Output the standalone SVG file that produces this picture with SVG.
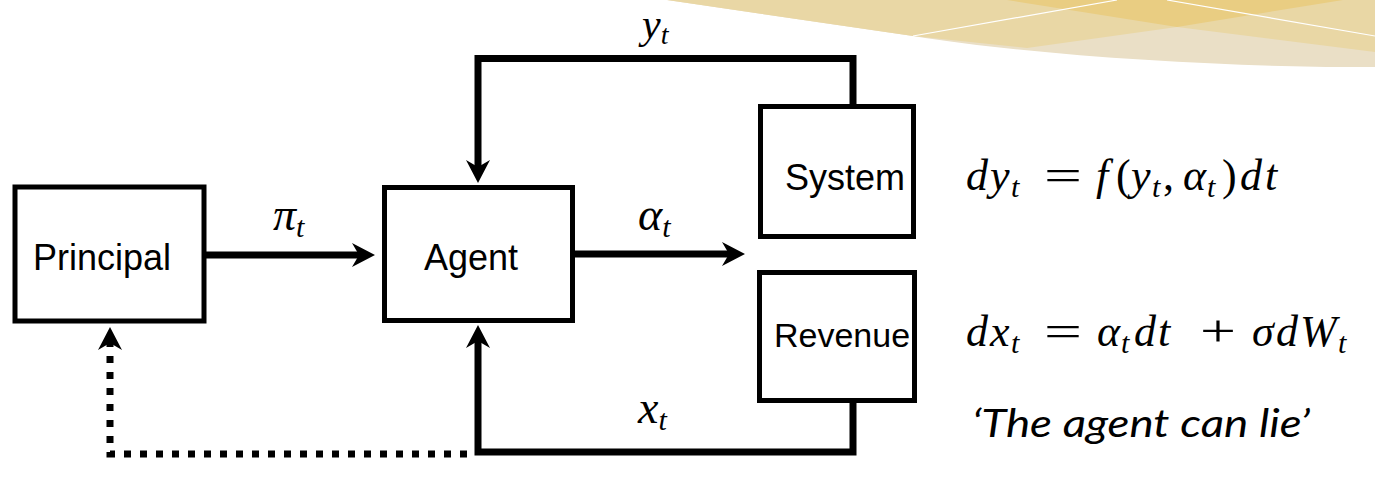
<svg xmlns="http://www.w3.org/2000/svg" width="1375" height="479" viewBox="0 0 1375 479">
<style>
.box{fill:#fff;stroke:#000;stroke-width:5}
.lbl{font-family:"Liberation Sans",Arial,sans-serif;font-size:36px;fill:#000}
.math{font-family:"Liberation Serif","Times New Roman",serif;font-size:46px;fill:#000}
.eq{font-family:"Liberation Serif","Times New Roman",serif;font-size:44px;fill:#000}
.mi{font-style:italic}
.sub{font-size:30px;font-style:italic}
.conn{fill:none;stroke:#000;stroke-width:7}
.dot{fill:none;stroke:#000;stroke-width:7;stroke-dasharray:7 9}
.note{font-family:Lato,"Open Sans",sans-serif;font-style:italic;font-size:39px;fill:#000}
</style>
<defs>
<marker id="ah" markerUnits="userSpaceOnUse" markerWidth="24" markerHeight="26" refX="12" refY="13" orient="auto" overflow="visible">
<path d="M0,1 L23,13 L0,25 L7,13 Z" fill="#000"/>
</marker>
</defs>
<g id="decoration">
<path d="M667,0 H1375 V67 C1250,68 1050,58 913,36 Z" fill="#EADFC6"/>
<path d="M667,0 H1375 V52 L1177,27 L1027,48 L913,36 Z" fill="#E9D7A5"/>
<path d="M1007,0 L1177,27 L1343,0 Z" fill="#E9CD82"/>
<path d="M913,36 L1117,0 M1167,0 L1375,36" stroke="#fff" stroke-width="1.2" fill="none"/>
</g>
<g id="connectors">
<path class="conn" d="M853,105 V58.5 H478 V172" marker-end="url(#ah)"/>
<path class="conn" d="M853,401 V452 H478 V336" marker-end="url(#ah)"/>
<path class="conn" d="M206,255 H364" marker-end="url(#ah)"/>
<path class="conn" d="M575,254 H734" marker-end="url(#ah)"/>
<path class="dot" d="M467,454 H110 V338" marker-end="url(#ah)"/>
</g>
<g id="principal">
<rect class="box" x="15" y="187" width="189" height="134"/>
<text class="lbl" x="102" y="270" text-anchor="middle">Principal</text>
</g>
<g id="agent">
<rect class="box" x="384.5" y="187.5" width="188" height="133"/>
<text class="lbl" x="471" y="270" text-anchor="middle">Agent</text>
</g>
<g id="system">
<rect class="box" x="760.5" y="106.5" width="153" height="130"/>
<text class="lbl" x="845" y="190" text-anchor="middle">System</text>
</g>
<g id="revenue">
<rect class="box" x="759.5" y="272.5" width="155" height="128"/>
<text class="lbl" x="842" y="347" text-anchor="middle" style="font-size:34px">Revenue</text>
</g>
<g id="labels">
<text class="math" x="273" y="230"><tspan class="mi">π</tspan><tspan class="sub" dy="7">t</tspan></text>
<text class="math" x="638" y="230"><tspan class="mi">α</tspan><tspan class="sub" dy="7">t</tspan></text>
<text class="math" x="642" y="38" style="font-size:42px"><tspan class="mi">y</tspan><tspan class="sub" dy="6" style="font-size:28px">t</tspan></text>
<text class="math" x="638" y="423"><tspan class="mi">x</tspan><tspan class="sub" dy="7">t</tspan></text>
<text class="eq" y="190"><tspan class="mi" x="966">d</tspan><tspan class="mi" x="990">y</tspan><tspan class="sub" x="1011" dy="7">t</tspan><tspan x="1044" dy="-7" textLength="38" lengthAdjust="spacingAndGlyphs">=</tspan><tspan class="mi" x="1096">f</tspan><tspan x="1116">(</tspan><tspan class="mi" x="1131">y</tspan><tspan class="sub" x="1152" dy="7">t</tspan><tspan x="1163" dy="-7">,</tspan><tspan class="mi" x="1183">α</tspan><tspan class="sub" x="1207" dy="7">t</tspan><tspan x="1222" dy="-7">)</tspan><tspan class="mi" x="1240">d</tspan><tspan class="mi" x="1265">t</tspan></text>
<text class="eq" y="346"><tspan class="mi" x="966">d</tspan><tspan class="mi" x="990">x</tspan><tspan class="sub" x="1011" dy="7">t</tspan><tspan x="1044" dy="-7" textLength="38" lengthAdjust="spacingAndGlyphs">=</tspan><tspan class="mi" x="1097">α</tspan><tspan class="sub" x="1121" dy="7">t</tspan><tspan class="mi" x="1134" dy="-7">d</tspan><tspan class="mi" x="1158">t</tspan><tspan x="1200" textLength="36" lengthAdjust="spacingAndGlyphs">+</tspan><tspan class="mi" x="1252">σ</tspan><tspan class="mi" x="1276">d</tspan><tspan class="mi" x="1300">W</tspan><tspan class="sub" x="1338" dy="7">t</tspan></text>
<text class="note" x="972" y="437" textLength="338" lengthAdjust="spacingAndGlyphs">‘The agent can lie’</text>
</g>
</svg>
